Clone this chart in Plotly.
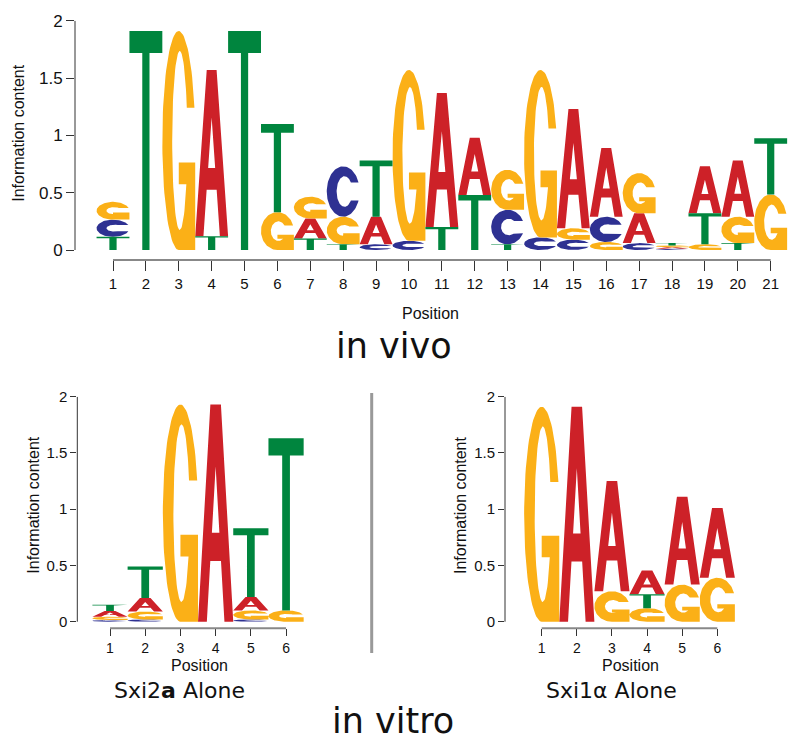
import math
import plotly.graph_objects as go

# ---------------- data ----------------
vivo_positions = list(range(1, 22))
vivo_A = [0, 0, 0, 1.45, 0, 0, 0.175, 0, 0.24, 0, 1.17, 0.50, 0, 0, 1.04, 0.60, 0.26, 0.013, 0.41, 0.49, 0]
vivo_C = [0.15, 0, 0, 0, 0, 0, 0, 0.44, 0.05, 0.08, 0, 0, 0.30, 0.11, 0.09, 0.22, 0.06, 0.012, 0, 0, 0]
vivo_G = [0.155, 0, 1.91, 0, 0, 0.33, 0.19, 0.24, 0, 1.49, 0, 0, 0.35, 1.46, 0.10, 0.07, 0.35, 0.015, 0.05, 0.23, 0.485]
vivo_T = [0.115, 1.91, 0, 0.12, 1.91, 0.77, 0.10, 0.05, 0.49, 0, 0.20, 0.48, 0.05, 0, 0, 0, 0, 0.02, 0.27, 0.06, 0.49]

sxi2_positions = [1, 2, 3, 4, 5, 6]
sxi2_A = [0.05, 0.12, 0, 1.93, 0.12, 0]
sxi2_C = [0.015, 0.02, 0, 0, 0.02, 0]
sxi2_G = [0.03, 0.07, 1.93, 0, 0.08, 0.10]
sxi2_T = [0.055, 0.28, 0, 0, 0.61, 1.53]

sxi1_positions = [1, 2, 3, 4, 5, 6]
sxi1_A = [0, 1.91, 0.98, 0.21, 0.78, 0.62]
sxi1_C = [0, 0, 0, 0, 0, 0]
sxi1_G = [1.91, 0, 0.27, 0.12, 0.33, 0.39]
sxi1_T = [0, 0, 0, 0.125, 0, 0]

y_ticks = [0, 0.5, 1, 1.5, 2]
y_ticktext = ["0", "0.5", "1", "1.5", "2"]

COLORS = {"A": "#cd2128", "C": "#2e3192", "G": "#fbb017", "T": "#00853e"}

# ---------------- glyph outlines (unit box) ----------------
def arc(cx, cy, rx, ry, a0, a1, n):
    out = []
    for i in range(n + 1):
        a = math.radians(a0 + (a1 - a0) * i / n)
        out.append((cx + rx * math.cos(a), cy + ry * math.sin(a)))
    return out


def clamp(v, lo, hi):
    return max(lo, min(hi, v))


def glyph_T(tf):
    return [(0, 1), (1, 1), (1, 0.9), (0.61, 0.9), (0.61, 0), (0.39, 0), (0.39, 0.9), (0, 0.9)]


def glyph_A(tf):
    s = 0.35
    cb, ct = 0.28, 0.41
    apex = 0.25 / s
    return [(0, 0), (s, 1), (1 - s, 1), (1, 0), (0.75, 0),
            (0.75 - s * cb, cb), (0.5, cb), (0.5, ct), (0.75 - s * ct, ct),
            (0.5, apex), (0.25 + s * ct, ct), (0.5, ct), (0.5, cb),
            (0.25 + s * cb, cb), (0.25, 0)]


def glyph_G(tf):
    ry_in = max(0.5 - tf, 0.08)
    cx_in, rx_in = 0.53, 0.23
    yu, bt, bb = 0.65, 0.40, 0.30
    th1 = math.degrees(math.asin((yu - 0.5) / 0.5))
    pts = arc(0.5, 0.5, 0.5, 0.5, th1, 270, 70)
    pts += [(1.0, 0.0), (1.0, bt), (0.5, bt), (0.5, bb)]
    pa = math.degrees(math.asin(clamp((bb - 0.5) / ry_in, -1, 1)))
    pb = math.degrees(math.asin(clamp((yu - 0.5) / ry_in, -1, 1)))
    pts += arc(cx_in, 0.5, rx_in, ry_in, pa, pb - 360, 70)
    return pts


def glyph_C(tf):
    ry_in = max(0.5 - tf, 0.08)
    cx_in, rx_in = 0.54, 0.24
    yu, yl = 0.68, 0.32
    th1 = math.degrees(math.asin((yu - 0.5) / 0.5))
    pts = arc(0.5, 0.5, 0.5, 0.5, th1, 360 - th1, 80)
    pl = math.degrees(math.asin(clamp((yl - 0.5) / ry_in, -1, 1)))
    pu = math.degrees(math.asin(clamp((yu - 0.5) / ry_in, -1, 1)))
    pts += arc(cx_in, 0.5, rx_in, ry_in, pl, pu - 360, 80)
    return pts


GLYPHS = {"A": glyph_A, "C": glyph_C, "G": glyph_G, "T": glyph_T}


def logo_traces(positions, A, C, G, T, xa, ya):
    series = {"A": A, "C": C, "G": G, "T": T}
    xs = {k: [] for k in "ACGT"}
    ys = {k: [] for k in "ACGT"}
    for i, p in enumerate(positions):
        stack = [(L, series[L][i]) for L in "ACGT" if series[L][i] > 0]
        stack.sort(key=lambda t: t[1])
        base = 0.0
        for L, h in stack:
            tf = min(0.3, (0.06 + 0.06 * h) / h)
            for (u, v) in GLYPHS[L](tf):
                xs[L].append(p - 0.5 + u)
                ys[L].append(base + v * h)
            xs[L].append(None)
            ys[L].append(None)
            base += h
    traces = []
    for L in "ACGT":
        if not xs[L]:
            continue
        traces.append(go.Scatter(
            x=xs[L], y=ys[L], mode="lines", fill="toself",
            fillcolor=COLORS[L], line=dict(width=0, color=COLORS[L]),
            hoverinfo="skip", showlegend=False, xaxis=xa, yaxis=ya,
            connectgaps=False, name=L))
    return traces


fig = go.Figure()
for t in logo_traces(vivo_positions, vivo_A, vivo_C, vivo_G, vivo_T, "x", "y"):
    fig.add_trace(t)
for t in logo_traces(sxi2_positions, sxi2_A, sxi2_C, sxi2_G, sxi2_T, "x2", "y2"):
    fig.add_trace(t)
for t in logo_traces(sxi1_positions, sxi1_A, sxi1_C, sxi1_G, sxi1_T, "x3", "y3"):
    fig.add_trace(t)

W, H = 800, 745
TICKFONT = "Liberation Sans, Arial, Helvetica, sans-serif"


def px(xp):
    return xp / W


def py(yp):
    return 1 - yp / H


def xaxis(domain, rng, positions, anchor, fs, tl):
    return dict(domain=domain, range=rng, anchor=anchor, tickmode="array",
                tickvals=positions, ticktext=[str(p) for p in positions],
                ticks="outside", ticklen=tl, tickwidth=1, tickcolor="#333",
                showline=False, showgrid=False, zeroline=False, automargin=False,
                tickfont=dict(family=TICKFONT, size=fs, color="#111"), fixedrange=True)


def yaxis(domain, rng, anchor, fs, tl):
    return dict(domain=domain, range=rng, anchor=anchor, tickmode="array",
                tickvals=y_ticks, ticktext=y_ticktext,
                ticks="outside", ticklen=tl, tickwidth=1, tickcolor="#333",
                showline=False, showgrid=False, zeroline=False, automargin=False,
                tickfont=dict(family=TICKFONT, size=fs, color="#111"), fixedrange=True)


fig.update_layout(
    width=W, height=H, autosize=False,
    margin=dict(l=0, r=0, t=0, b=0, pad=0),
    paper_bgcolor="white", plot_bgcolor="white", showlegend=False,
    xaxis=xaxis([px(75), px(790)], [-0.1555, 21.587], vivo_positions, "y", 15, 10),
    yaxis=yaxis([py(260), py(20.7)], [-0.0872, 2.0], "x", 17, 8),
    xaxis2=xaxis([px(77.3), px(310)], [0.071, 6.68], sxi2_positions, "y2", 14, 7),
    yaxis2=yaxis([py(628.3), py(396.7)], [-0.0587, 2.0], "x2", 15, 6),
    xaxis3=xaxis([px(505), px(740)], [-0.0447, 6.646], sxi1_positions, "y3", 14, 7),
    yaxis3=yaxis([py(628.3), py(396.7)], [-0.0587, 2.0], "x3", 15, 6),
)

shapes = []
for xa, ya, pos in (("x", "y", vivo_positions), ("x2", "y2", sxi2_positions), ("x3", "y3", sxi1_positions)):
    shapes.append(dict(type="line", xref=xa + " domain", x0=0, x1=0, yref=ya,
                       y0=y_ticks[0], y1=y_ticks[-1], line=dict(color="#333", width=1)))
    shapes.append(dict(type="line", xref=xa, x0=pos[0], x1=pos[-1], yref=ya + " domain",
                       y0=0, y1=0, line=dict(color="#888", width=2)))
shapes.append(dict(type="line", xref="paper", yref="paper", x0=px(371.7), x1=px(371.7),
                   y0=py(653), y1=py(393), line=dict(color="#999", width=3)))
fig.update_layout(shapes=shapes)

ann = []
def A_(text, x, y, size, family=TICKFONT, angle=0):
    ann.append(dict(text=text, x=px(x), y=py(y), xref="paper", yref="paper",
                    xanchor="center", yanchor="middle", showarrow=False,
                    textangle=angle, font=dict(family=family, size=size, color="#111")))

A_("Information content", 18.3, 132.5, 16, angle=-90)
A_("Position", 430, 313, 16)
A_("in vivo", 394, 346, 35, family="DejaVu Sans")
A_("Information content", 32.7, 505, 16, angle=-90)
A_("Position", 199, 665, 16)
A_("Sxi2<b>a</b> Alone", 179, 690, 22, family="DejaVu Sans")
A_("Information content", 460, 505, 16, angle=-90)
A_("Position", 630.8, 665, 16)
A_("Sxi1α Alone", 611.7, 690, 22, family="DejaVu Sans")
A_("in vitro", 393.3, 721, 35, family="DejaVu Sans")
fig.update_layout(annotations=ann)

fig.write_html("out.html", config={"displayModeBar": False},
               post_script="document.body.style.margin='0px';document.body.style.overflow='hidden';")
